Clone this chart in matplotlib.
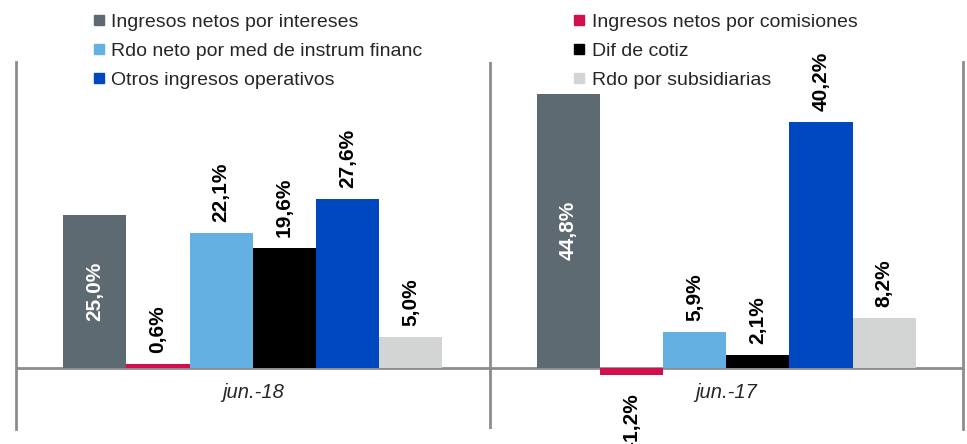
import matplotlib
matplotlib.use("Agg")
import matplotlib.pyplot as plt
from matplotlib.lines import Line2D
import numpy as np

plt.rcParams['font.family'] = ['Liberation Sans', 'DejaVu Sans']

categories = ["jun.-18", "jun.-17"]
series_names = [
    "Ingresos netos por intereses",
    "Ingresos netos por comisiones",
    "Rdo neto por med de instrum financ",
    "Dif de cotiz",
    "Otros ingresos operativos",
    "Rdo por subsidiarias",
]
values = [
    [25.0, 44.8],
    [0.6, -1.2],
    [22.1, 5.9],
    [19.6, 2.1],
    [27.6, 40.2],
    [5.0, 8.2],
]
colors = ["#5E6A72", "#D2104D", "#64B0E3", "#000000", "#0048C0", "#D3D5D4"]
inside_label = [True, False, False, False, False, False]

W, H = 967, 444
fig = plt.figure(figsize=(W / 100, H / 100), dpi=100)
ax = fig.add_axes([16 / W, (H - 429) / H, (963 - 16) / W, (429 - 62) / H])

n = len(series_names)
group_w = 0.8
bw = group_w / n
x = np.arange(len(categories))

for i, (name, vals, c) in enumerate(zip(series_names, values, colors)):
    pos = x - group_w / 2 + bw * (i + 0.5)
    bars = ax.bar(pos, vals, width=bw, color=c, label=name, zorder=2)
    for b, v in zip(bars, vals):
        txt = f"{v:.1f}%".replace(".", ",")
        cx = b.get_x() + b.get_width() / 2
        if inside_label[i] and v > 10:
            ax.text(cx, v / 2, txt, rotation=90, ha='center', va='center',
                    color='white', fontsize=15, fontweight='bold', zorder=3)
        elif v >= 0:
            ax.annotate(txt, (cx, v), xytext=(0, 8), textcoords='offset points',
                        rotation=90, ha='center', va='bottom', color='black',
                        fontsize=15, fontweight='bold', zorder=3)
        else:
            ax.annotate(txt, (cx, v), xytext=(0, -13), textcoords='offset points',
                        rotation=90, ha='center', va='top', color='black',
                        fontsize=15, fontweight='bold', zorder=3,
                        annotation_clip=False)

ax.set_xlim(-0.5, len(categories) - 0.5)
ax.set_ylim(-10, 50)
ax.axhline(0, color='#8C8C8C', lw=2, zorder=1)
for k in range(1, len(categories)):
    ax.axvline(k - 0.5, color='#8C8C8C', lw=2, zorder=1)

for s in ['top', 'bottom']:
    ax.spines[s].set_visible(False)
for s in ['left', 'right']:
    ax.spines[s].set_color('#8C8C8C')
    ax.spines[s].set_linewidth(2)
ax.set_xticks([])
ax.set_yticks([])

for xi, cat in zip(x, categories):
    ax.text(xi, -4.1, cat, ha='center', va='center', fontsize=14.5,
            style='italic', color='#262626')

order = [0, 2, 4, 1, 3, 5]
handles = [Line2D([], [], marker='s', linestyle='none', markersize=7,
                  markerfacecolor=colors[i], markeredgecolor=colors[i]) for i in order]
labels = [series_names[i] for i in order]
fig.legend(handles, labels, loc='upper left', bbox_to_anchor=(93 / W, 1 - 13 / H),
           ncol=2, frameon=False, fontsize=14, handlelength=0.6,
           handletextpad=0.35, columnspacing=7.75, labelspacing=0.59,
           borderpad=0, borderaxespad=0, labelcolor='#262626')

fig.savefig("out.png", dpi=100)
